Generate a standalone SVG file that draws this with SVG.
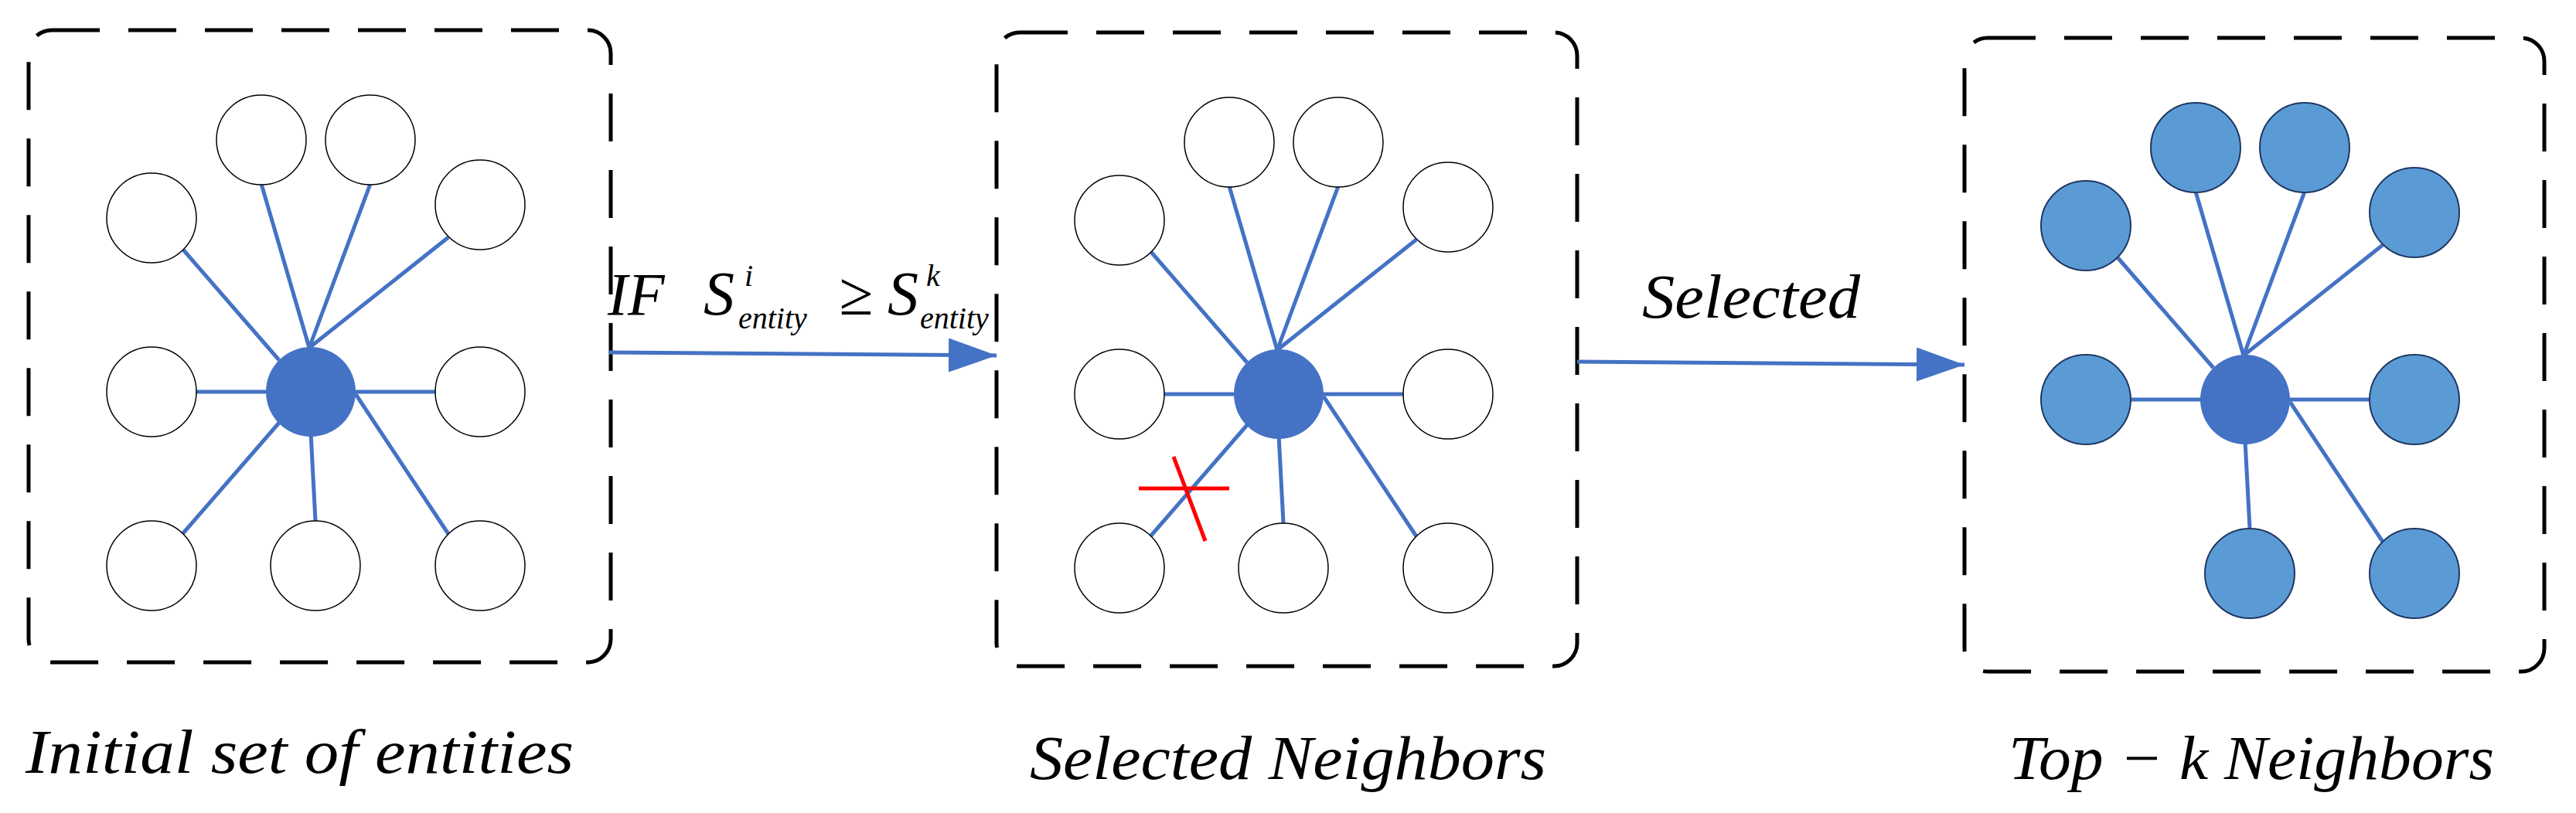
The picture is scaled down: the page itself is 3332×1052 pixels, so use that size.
<svg xmlns="http://www.w3.org/2000/svg" width="3332" height="1052" viewBox="0 0 3332 1052">
<style>
.box{fill:none;stroke:#000;stroke-width:5;stroke-dasharray:62 37}
.n{fill:#fff;stroke:#000;stroke-width:1.5}
.t{fill:#5B9BD5;stroke:#1F3864;stroke-width:2}
.hub{fill:#4472C4}
.e{stroke:#4472C4;stroke-width:5;fill:none}
.txt{font-family:"Liberation Serif","Times New Roman",serif;font-style:italic;fill:#000}
</style>
<defs>
<marker id="ah" markerUnits="userSpaceOnUse" markerWidth="64" markerHeight="44" refX="62" refY="22" orient="auto"><path d="M0,0 L62,22 L0,44 Z" fill="#4472C4"/></marker>
<g id="edges">
<line x1="400" y1="450" x2="338" y2="238"/><line x1="400" y1="450" x2="479" y2="238"/>
<line x1="400" y1="450" x2="580" y2="307"/><line x1="361" y1="466" x2="236" y2="322"/>
<line x1="253" y1="507" x2="564" y2="507"/><line x1="361" y1="547" x2="236" y2="691"/>
<line x1="402" y1="560" x2="408" y2="674"/><line x1="460" y1="510" x2="580" y2="691"/>
</g>
</defs>
<g id="box1">
<rect class="box" x="37" y="39" width="753" height="818" rx="30"/>
<g class="e"><use href="#edges"/></g>
<circle class="n" cx="338" cy="181" r="58"/><circle class="n" cx="479" cy="181" r="58"/>
<circle class="n" cx="196" cy="282" r="58"/><circle class="n" cx="621" cy="265" r="58"/>
<circle class="n" cx="196" cy="507" r="58"/><circle class="n" cx="621" cy="507" r="58"/>
<circle class="n" cx="196" cy="732" r="58"/><circle class="n" cx="408" cy="732" r="58"/><circle class="n" cx="621" cy="732" r="58"/>
<circle class="hub" cx="402" cy="507" r="58"/>
</g>
<g id="box2" transform="translate(1252,3)">
<rect class="box" x="37" y="39" width="751" height="820" rx="30"/>
<g class="e"><use href="#edges"/></g>
<circle class="n" cx="338" cy="181" r="58"/><circle class="n" cx="479" cy="181" r="58"/>
<circle class="n" cx="196" cy="282" r="58"/><circle class="n" cx="621" cy="265" r="58"/>
<circle class="n" cx="196" cy="507" r="58"/><circle class="n" cx="621" cy="507" r="58"/>
<circle class="n" cx="196" cy="732" r="58"/><circle class="n" cx="408" cy="732" r="58"/><circle class="n" cx="621" cy="732" r="58"/>
<circle class="hub" cx="402" cy="507" r="58"/>
</g>
<g id="cross" stroke="#FF0000" stroke-width="5">
<line x1="1473" y1="632" x2="1590" y2="632"/><line x1="1518" y1="591" x2="1559" y2="700"/>
</g>
<g id="box3" transform="translate(2502,10)">
<rect class="box" x="39" y="39" width="750" height="820" rx="30"/>
<g class="e">
<line x1="400" y1="450" x2="338" y2="238"/><line x1="400" y1="450" x2="479" y2="238"/>
<line x1="400" y1="450" x2="580" y2="307"/><line x1="361" y1="466" x2="236" y2="322"/>
<line x1="253" y1="507" x2="564" y2="507"/>
<line x1="402" y1="560" x2="408" y2="674"/><line x1="460" y1="510" x2="580" y2="691"/>
</g>
<circle class="t" cx="338" cy="181" r="58"/><circle class="t" cx="479" cy="181" r="58"/>
<circle class="t" cx="196" cy="282" r="58"/><circle class="t" cx="621" cy="265" r="58"/>
<circle class="t" cx="196" cy="507" r="58"/><circle class="t" cx="621" cy="507" r="58"/>
<circle class="t" cx="408" cy="732" r="58"/><circle class="t" cx="621" cy="732" r="58"/>
<circle class="hub" cx="402" cy="507" r="58"/>
</g>
<g id="connectors" class="e" stroke-width="6">
<line x1="788" y1="456" x2="1289" y2="460" marker-end="url(#ah)"/>
<line x1="2040" y1="468" x2="2541" y2="472" marker-end="url(#ah)"/>
</g>
<g id="labels">
<text class="txt" x="786" y="407" font-size="78">IF</text>
<text class="txt" x="910" y="407" font-size="80">S</text>
<text class="txt" x="963" y="370" font-size="40">i</text>
<text class="txt" x="955" y="425" font-size="40">entity</text>
<text class="txt" x="1085" y="407" font-size="80" font-style="normal">≥</text>
<text class="txt" x="1148" y="407" font-size="80">S</text>
<text class="txt" x="1198" y="370" font-size="40">k</text>
<text class="txt" x="1190" y="425" font-size="40">entity</text>
<text class="txt" x="2124" y="411" font-size="80" textLength="282" lengthAdjust="spacingAndGlyphs">Selected</text>
<text class="txt" x="33" y="1000" font-size="80" textLength="709" lengthAdjust="spacingAndGlyphs">Initial set of  entities</text>
<text class="txt" x="1332" y="1008" font-size="80" textLength="668" lengthAdjust="spacingAndGlyphs">Selected Neighbors</text>
<text class="txt" x="2598" y="1008" font-size="80" textLength="628" lengthAdjust="spacingAndGlyphs">Top − k Neighbors</text>
</g>
</svg>
